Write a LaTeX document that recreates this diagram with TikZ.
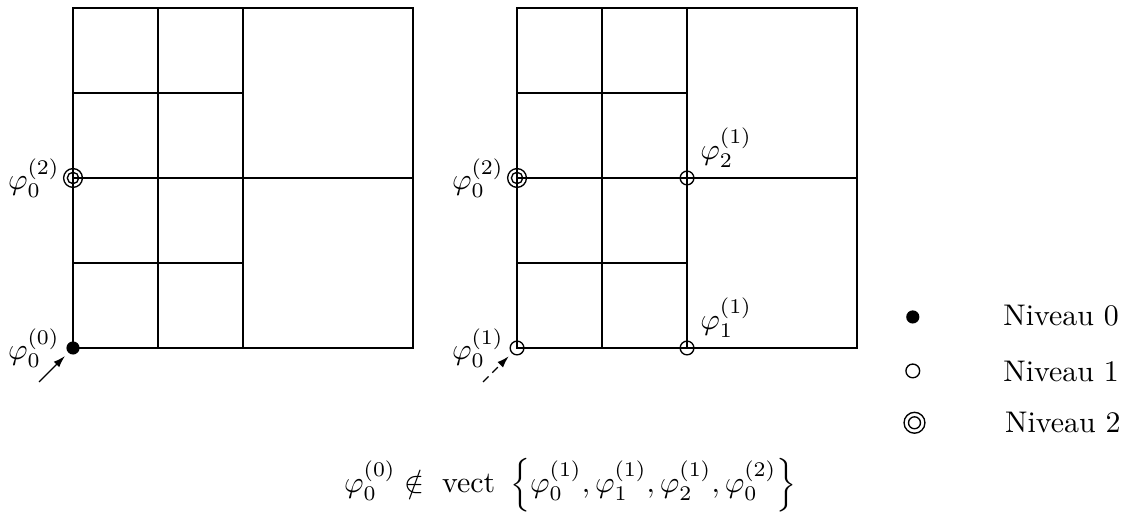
\documentclass[tikz,border=0pt]{standalone}
\usepackage{amsmath,amssymb}
\usetikzlibrary{arrows.meta,calc}
\tikzset{
  gridline/.style={line width=0.4pt},
  heavy/.style={line width=0.6pt},
  lvlzero/.style={circle,fill=black,inner sep=0pt,minimum size=4.4pt},
  lvlone/.style={circle,draw,line width=0.45pt,inner sep=0pt,minimum size=4.6pt},
  lvltwo/.style={circle,draw,line width=0.45pt,inner sep=0pt,minimum size=6.3pt},
  lbl/.style={inner sep=0pt},
  arr/.style={line width=0.45pt,-{Latex[length=4pt,width=2.6pt]},shorten >=1.4pt},
  dashline/.style={dash pattern=on 2.6pt off 1.8pt},
  legtext/.style={inner sep=0pt,anchor=base west}
}
\begin{document}
\begin{tikzpicture}
\useasboundingbox (-0.859,-1.941) rectangle (12.4,4.094);
% ---------- left grid ----------
\draw[gridline] (0,0) rectangle (4,4);
\draw[gridline] (1,0) -- (1,4);
\draw[gridline] (0,1) -- (2,1);
\draw[gridline] (0,3) -- (2,3);
\draw[gridline] (0,2) -- (4,2);
\draw[heavy] (0,0) rectangle (2,4);
\node[lvlzero] (La) at (0,0) {};
\node[lvltwo] (Lb) at (0,2) {};
\draw[line width=0.45pt] (Lb) circle[radius=1.9pt];
\node[lbl,anchor=east] (tLa) at ($(La)+(-0.15,0)$) {$\varphi_0^{(0)}$};
\node[lbl,anchor=east] (tLb) at ($(Lb)+(-0.15,0)$) {$\varphi_0^{(2)}$};
\coordinate (sLa) at (-0.4,-0.4);
\draw[arr] (sLa) -- (La);
% ---------- right grid ----------
\begin{scope}[xshift=5.224cm]
\draw[gridline] (0,0) rectangle (4,4);
\draw[gridline] (1,0) -- (1,4);
\draw[gridline] (0,1) -- (2,1);
\draw[gridline] (0,3) -- (2,3);
\draw[gridline] (0,2) -- (4,2);
\draw[heavy] (0,0) rectangle (2,4);
\node[lvlone] (Ra) at (0,0) {};
\node[lvltwo] (Rb) at (0,2) {};
\draw[line width=0.45pt] (Rb) circle[radius=1.9pt];
\node[lvlone] (Rc) at (2,2) {};
\node[lvlone] (Rd) at (2,0) {};
\node[lbl,anchor=east] (tRa) at ($(Ra)+(-0.15,0)$) {$\varphi_0^{(1)}$};
\node[lbl,anchor=east] (tRb) at ($(Rb)+(-0.15,0)$) {$\varphi_0^{(2)}$};
\node[lbl,anchor=south west] (tRc) at ($(Rc)+(0.15,0.12)$) {$\varphi_2^{(1)}$};
\node[lbl,anchor=south west] (tRd) at ($(Rd)+(0.15,0.12)$) {$\varphi_1^{(1)}$};
\coordinate (sRa) at (-0.4,-0.4);
\draw[arr,dashline] (sRa) -- (Ra);
\end{scope}
% ---------- legend ----------
\node[lvlzero] (g0) at (9.88,0.365) {};
\node[lvlone] (g1) at (9.88,-0.27) {};
\node[circle,draw,line width=0.45pt,inner sep=0pt,minimum size=7pt] (g2) at (9.9,-0.88) {};
\draw[line width=0.45pt] (g2) circle[radius=2.0pt];
\node[legtext] (n0) at (10.94,0.27) {Niveau 0};
\node[legtext] (n1) at (10.94,-0.396) {Niveau 1};
\node[legtext] (n2) at (10.96,-1.0) {Niveau 2};
% ---------- formula ----------
\node[lbl,anchor=base] (f) at (5.85,-1.7)
  {$\varphi_0^{(0)} \notin \mbox{ vect } \left\{\varphi_0^{(1)},\varphi_1^{(1)},\varphi_2^{(1)},\varphi_0^{(2)}\right\}$};
\end{tikzpicture}
\end{document}
